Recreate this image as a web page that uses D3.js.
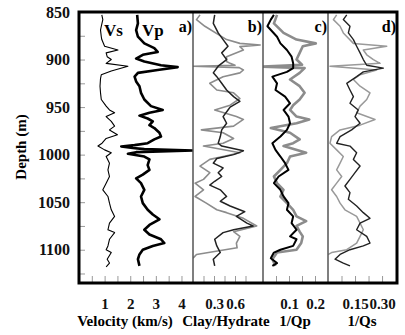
<!DOCTYPE html>
<html>
<head>
<meta charset="utf-8">
<script src="https://cdn.jsdelivr.net/npm/d3@7"></script>
<style>
  body { margin: 0; background: #fff; }
  svg { display: block; font-family: "Liberation Serif", "DejaVu Serif", serif; font-weight: bold; }
</style>
</head>
<body>
<div id="chart"></div>
<script>
// depth (m), value pairs
const vs = [[853, 0.89], [858, 0.93], [865, 0.87], [869, 0.84], [876, 0.87], [879, 0.89], [886, 1.0], [890, 1.52], [893, 1.06],
  [897, 1.1], [900, 1.26], [904, 1.06], [907, 1.91], [912, 1.26], [916, 0.87], [920, 0.84], [928, 0.82], [935, 0.84], [942, 0.87],
  [949, 1.06], [953, 1.19], [956, 1.39], [960, 1.06], [965, 1.26], [970, 1.39], [974, 1.19], [979, 1.5], [983, 1.06], [988, 0.9],
  [991, 0.74], [995, 1.0], [998, 1.26], [1002, 1.06], [1009, 1.19], [1016, 1.13], [1023, 1.19], [1030, 1.06], [1037, 0.93],
  [1044, 1.13], [1051, 1.19], [1058, 1.26], [1065, 1.39], [1072, 1.19], [1079, 1.13], [1082, 1.39], [1089, 1.19], [1096, 1.13],
  [1100, 1.06], [1103, 1.26], [1110, 1.1], [1114, 1.19], [1118, 1.06]];

const vp = [[853, 2.27], [862, 2.3], [869, 2.23], [876, 2.3], [883, 2.55], [888, 2.94], [892, 3.07], [895, 2.49], [899, 2.23],
  [902, 2.55], [906, 3.2], [908, 3.85], [911, 3.07], [914, 2.3], [918, 2.17], [923, 2.23], [928, 2.36], [935, 2.42], [942, 2.55],
  [949, 2.81], [953, 3.27], [956, 2.75], [959, 2.36], [962, 2.68], [965, 2.88], [969, 2.75], [972, 2.94], [977, 3.14], [981, 3.2],
  [984, 2.94], [988, 2.68], [990, 2.17], [991.4, 1.65], [993, 2.1], [994.2, 2.55], [995.6, 4.45], [997.4, 2.23], [999, 1.91],
  [1002, 2.55], [1005, 2.75], [1011, 2.68], [1016, 2.75], [1021, 2.49], [1025, 2.23], [1030, 2.42], [1037, 2.55], [1044, 2.42],
  [1051, 2.49], [1058, 2.68], [1063, 2.88], [1068, 3.14], [1074, 2.75], [1079, 2.55], [1084, 2.75], [1089, 3.2], [1093, 3.33],
  [1096, 2.88], [1100, 2.49], [1105, 2.36], [1110, 2.3], [1117, 2.36]];

const clayBlack = [[853, 0.31], [862, 0.29], [872, 0.36], [879, 0.43], [886, 0.5], [893, 0.41], [900, 0.48], [907, 0.36], [914, 0.29],
  [918, 0.34], [925, 0.41], [932, 0.48], [939, 0.58], [944, 0.67], [950, 0.53], [953, 0.5], [960, 0.43], [967, 0.48], [974, 0.41],
  [981, 0.39], [988, 0.36], [991, 0.41], [996, 0.72], [1000, 0.58], [1004, 0.34], [1009, 0.29], [1014, 0.43], [1019, 0.36],
  [1023, 0.41], [1028, 0.31], [1032, 0.24], [1037, 0.39], [1044, 0.48], [1049, 0.39], [1054, 0.53], [1060, 0.74], [1065, 0.62],
  [1072, 0.77], [1075, 0.86], [1079, 0.58], [1082, 0.43], [1089, 0.31], [1096, 0.34], [1103, 0.39], [1110, 0.29], [1117, 0.31]];

const clayGray = [[853, 0.1], [858, 0.05], [865, 0.17], [879, 0.48], [883, 0.67], [884.7, 0.96], [886.4, 0.67], [890, 0.72],
  [897, 0.48], [902, 0.48], [904, 0.53], [906, 0.6], [907, 0.0], [908.5, 0.66], [911, 0.72], [914, 0.67], [918, 0.43], [925, 0.24],
  [932, 0.34], [935, 0.58], [941, 0.67], [948, 0.53], [953, 0.31], [960, 0.62], [963, 0.72], [970, 0.58], [974, 0.12], [977, 0.43],
  [983, 0.58], [988, 0.43], [991, 0.15], [998, 0.67], [1002, 0.43], [1005, 0.24], [1012, 0.1], [1019, 0.24], [1026, 0.15],
  [1030, 0.03], [1037, 0.15], [1044, 0.03], [1051, 0.19], [1058, 0.34], [1061, 0.48], [1067, 0.72], [1075, 0.91], [1081, 0.58],
  [1086, 0.67], [1093, 0.62], [1098, 0.63], [1105, 0.05], [1109, 0.0]];

const qpBlack = [[853, 0.042], [858, 0.03], [865, 0.017], [876, 0.054], [883, 0.067], [890, 0.092], [897, 0.11], [904, 0.116],
  [909, 0.116], [913, 0.092], [918, 0.036], [925, 0.054], [932, 0.048], [939, 0.085], [946, 0.104], [953, 0.079], [960, 0.098],
  [967, 0.104], [974, 0.092], [981, 0.067], [988, 0.036], [995, 0.048], [1002, 0.067], [1009, 0.085], [1016, 0.098], [1023, 0.06],
  [1030, 0.042], [1037, 0.067], [1044, 0.079], [1051, 0.098], [1058, 0.092], [1065, 0.116], [1072, 0.11], [1079, 0.129],
  [1086, 0.104], [1089, 0.129], [1096, 0.116], [1100, 0.067], [1103, 0.042], [1109, 0.03], [1114, 0.054], [1117, 0.036]];

const qpGray = [[853, 0.054], [862, 0.042], [872, 0.079], [879, 0.129], [883, 0.203], [886, 0.153], [893, 0.141], [900, 0.129],
  [905.5, 0.15], [907.4, 0.0], [909, 0.16], [914, 0.141], [921, 0.104], [928, 0.141], [935, 0.16], [942, 0.141], [948, 0.116],
  [953, 0.104], [960, 0.129], [963, 0.178], [967, 0.129], [972, 0.03], [977, 0.104], [984, 0.141], [988, 0.116], [991, 0.079],
  [998, 0.166], [1002, 0.104], [1009, 0.092], [1016, 0.067], [1023, 0.042], [1030, 0.054], [1037, 0.079], [1044, 0.067],
  [1051, 0.092], [1058, 0.116], [1065, 0.129], [1070, 0.166], [1075, 0.129], [1081, 0.141], [1086, 0.153], [1093, 0.147],
  [1100, 0.129], [1103, 0.054], [1110, 0.036], [1117, 0.048]];

const qsBlack = [[853, 0.104], [858, 0.085], [865, 0.122], [872, 0.113], [879, 0.141], [886, 0.159], [893, 0.178], [900, 0.196],
  [906, 0.215], [909, 0.307], [913, 0.196], [918, 0.159], [925, 0.104], [932, 0.122], [939, 0.141], [946, 0.122], [953, 0.168],
  [960, 0.15], [967, 0.178], [974, 0.131], [981, 0.067], [988, 0.048], [991, 0.122], [998, 0.159], [1005, 0.141], [1012, 0.178],
  [1019, 0.15], [1026, 0.122], [1033, 0.094], [1040, 0.122], [1047, 0.113], [1054, 0.159], [1061, 0.196], [1067, 0.233],
  [1072, 0.178], [1079, 0.159], [1086, 0.215], [1093, 0.233], [1096, 0.196], [1100, 0.122], [1105, 0.067], [1110, 0.039],
  [1114, 0.085], [1117, 0.122]];

const qsGray = [[853, 0.048], [858, 0.03], [865, 0.067], [872, 0.085], [883, 0.141], [886, 0.326], [890, 0.196], [895, 0.215],
  [900, 0.252], [904, 0.289], [907, 0.011], [911, 0.27], [916, 0.178], [921, 0.141], [928, 0.178], [935, 0.233], [942, 0.215],
  [949, 0.178], [956, 0.159], [963, 0.261], [969, 0.178], [974, 0.067], [981, 0.02], [988, 0.011], [995, 0.048], [1002, 0.085],
  [1009, 0.067], [1016, 0.048], [1023, 0.076], [1030, 0.048], [1037, 0.02], [1044, 0.048], [1051, 0.067], [1058, 0.094],
  [1065, 0.159], [1072, 0.178], [1079, 0.196], [1086, 0.178], [1093, 0.159], [1100, 0.104], [1103, 0.02], [1105, 0.0]];

const depthTicks = d3.range(850, 1136, 25);
const velTicks = d3.range(0.5, 4.01, 0.5);
const clayTicks = [0.15, 0.3, 0.45, 0.6, 0.75];
const qpTicks = [0.05, 0.1, 0.15, 0.2];
const qsTicks = [0.075, 0.15, 0.225, 0.3];

const W = 405, H = 335;
const plotTop = 12, plotBottom = 283;

const svg = d3.select('#chart').append('svg')
  .attr('width', W)
  .attr('height', H);

const y = d3.scaleLinear().domain([850, 1135]).range([plotTop, plotBottom]);

// one panel per log
const panels = [
  { x: d3.scaleLinear().domain([0, 4.45]).range([79, 193]), ticks: velTicks, labels: [1, 2, 3, 4], fmt: d3.format('d'),
    series: [{ d: vs, c: '#000', w: 1.1 }, { d: vp, c: '#000', w: 2.6 }], tag: 'a)' },
  { x: d3.scaleLinear().domain([0, 1]).range([193, 263]), ticks: clayTicks, labels: [0.3, 0.6], fmt: d3.format('.1f'),
    series: [{ d: clayGray, c: '#8c8c8c', w: 1.6 }, { d: clayBlack, c: '#222', w: 1.5 }], tag: 'b)' },
  { x: d3.scaleLinear().domain([0, 0.25]).range([263, 328]), ticks: qpTicks, labels: [0.1, 0.2], fmt: d3.format('.1f'),
    series: [{ d: qpGray, c: '#8c8c8c', w: 2.6 }, { d: qpBlack, c: '#000', w: 2 }], tag: 'c)' },
  { x: d3.scaleLinear().domain([0, 0.383]).range([328, 397]), ticks: qsTicks, labels: [0.15, 0.3], fmt: d3.format('.2f'),
    series: [{ d: qsGray, c: '#9a9a9a', w: 1.5 }, { d: qsBlack, c: '#222', w: 1.4 }], tag: 'd)' }
];

panels.forEach((p, i) => {
  const [x0, x1] = p.x.range();
  const id = 'clip' + i;
  svg.append('clipPath').attr('id', id)
    .append('rect').attr('x', x0).attr('y', plotTop).attr('width', x1 - x0).attr('height', plotBottom - plotTop);

  const line = d3.line().x(d => p.x(d[1])).y(d => y(d[0]));
  const g = svg.append('g').attr('clip-path', 'url(#' + id + ')');
  p.series.forEach(s => {
    g.append('path')
      .attr('d', line(s.d))
      .attr('fill', 'none')
      .attr('stroke', s.c)
      .attr('stroke-width', s.w)
      .attr('stroke-linejoin', 'round');
  });

  // bottom axis, ticks pointing up into the panel
  const ax = svg.append('g')
    .attr('transform', 'translate(0,' + plotBottom + ')')
    .call(d3.axisBottom(p.x).tickValues(p.ticks).tickSize(-7).tickPadding(15)
      .tickFormat(d => p.labels.some(l => Math.abs(l - d) < 1e-9) ? p.fmt(d) : ''));
  ax.select('.domain').remove();
  ax.selectAll('line').attr('stroke', '#999');
  ax.selectAll('text').attr('font-size', 15).attr('font-family', 'Liberation Serif').attr('font-weight', 'bold').attr('fill', '#111');

  svg.append('text')
    .attr('x', x1 - 1).attr('y', plotTop + 20)
    .attr('text-anchor', 'end')
    .attr('font-size', 16)
    .text(p.tag);
});

// left depth axis
const ay = svg.append('g')
  .attr('transform', 'translate(79,0)')
  .call(d3.axisLeft(y).tickValues(depthTicks).tickSize(-6).tickPadding(9)
    .tickFormat(d => d % 50 === 0 ? d : ''));
ay.select('.domain').remove();
ay.selectAll('line').attr('stroke', '#999');
ay.selectAll('text').attr('font-size', 16).attr('font-family', 'Liberation Serif').attr('font-weight', 'bold').attr('fill', '#111');

// panel separators
[193, 263, 328].forEach(xp => {
  svg.append('line')
    .attr('x1', xp).attr('x2', xp).attr('y1', plotTop).attr('y2', plotBottom)
    .attr('stroke', '#555').attr('stroke-width', 1.5);
});

// frame
svg.append('rect')
  .attr('x', 79).attr('y', plotTop).attr('width', 397 - 79).attr('height', plotBottom - plotTop)
  .attr('fill', 'none').attr('stroke', '#000').attr('stroke-width', 3);

// curve names
svg.append('text').attr('x', 104).attr('y', 36).attr('font-size', 17).text('Vs');
svg.append('text').attr('x', 142).attr('y', 36).attr('font-size', 17).text('Vp');

// axis titles
const titles = [['Velocity (km/s)', 125], ['Clay/Hydrate', 226], ['1/Qp', 295], ['1/Qs', 362]];
titles.forEach(t => {
  svg.append('text').attr('x', t[1]).attr('y', 326).attr('text-anchor', 'middle').attr('font-size', 15).text(t[0]);
});

svg.append('text')
  .attr('transform', 'translate(26,147) rotate(-90)')
  .attr('text-anchor', 'middle')
  .attr('font-size', 15)
  .text('Depth (m)');
</script>
</body>
</html>
